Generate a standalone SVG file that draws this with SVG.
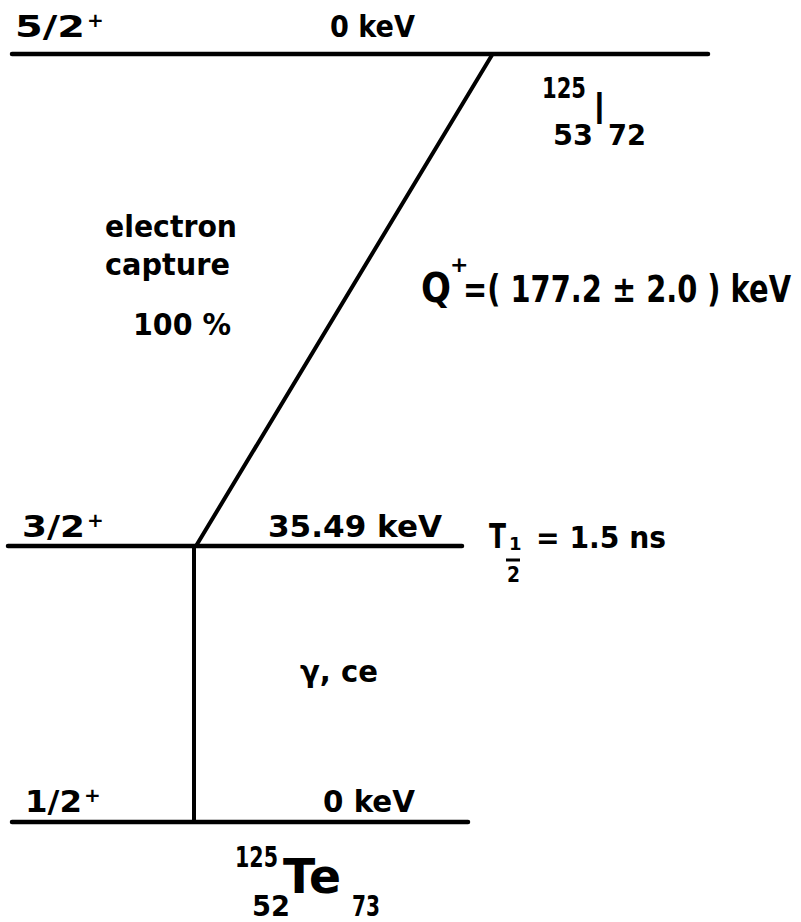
<svg xmlns="http://www.w3.org/2000/svg" width="801" height="922" viewBox="0 0 801 922">
<style>
  text { font-family: "DejaVu Sans", "Liberation Sans", sans-serif; font-weight: bold; fill: #000; }
  .lbl { font-size: 30px; }
  .sup { font-size: 20px; }
  .sub { font-size: 28px; }
  .lvl { stroke: #000; stroke-width: 4.5; stroke-linecap: round; fill: none; }
  .tr { stroke: #000; stroke-width: 4; stroke-linecap: round; fill: none; }
  .thin { font-family: "Liberation Sans", sans-serif; font-weight: normal; }
</style>
<rect width="801" height="922" fill="#fff"/>

<g id="level-I125-ground">
  <line class="lvl" x1="12" y1="54" x2="708" y2="54"/>
  <text class="lbl" x="15" y="37" textLength="70" lengthAdjust="spacingAndGlyphs">5/2</text>
  <text class="sup" x="87" y="27">+</text>
  <text class="lbl" x="330" y="37" textLength="85" lengthAdjust="spacingAndGlyphs">0 keV</text>
</g>

<g id="nuclide-I125">
  <text class="sub" x="542" y="98" textLength="44" lengthAdjust="spacingAndGlyphs">125</text>
  <text class="thin" x="593" y="124" font-size="46">I</text>
  <text class="sub" x="553" y="145" textLength="40" lengthAdjust="spacingAndGlyphs">53</text>
  <text class="sub" x="608" y="145" textLength="38" lengthAdjust="spacingAndGlyphs">72</text>
</g>

<g id="ec-label">
  <text x="105" y="237" font-size="30" textLength="132" lengthAdjust="spacingAndGlyphs">electron</text>
  <text x="105" y="275" font-size="30" textLength="125" lengthAdjust="spacingAndGlyphs">capture</text>
  <text x="133" y="335" font-size="30" textLength="98" lengthAdjust="spacingAndGlyphs">100 %</text>
</g>

<g id="q-value">
  <text x="421" y="302" font-size="40" textLength="30" lengthAdjust="spacingAndGlyphs">Q</text>
  <text x="450" y="272" font-size="22">+</text>
  <text x="463" y="302" font-size="37" textLength="328" lengthAdjust="spacingAndGlyphs">=( 177.2 ± 2.0 ) keV</text>
</g>

<g id="level-Te125-35keV">
  <line class="lvl" x1="8" y1="546" x2="462" y2="546"/>
  <text class="lbl" x="22" y="537" textLength="63" lengthAdjust="spacingAndGlyphs">3/2</text>
  <text class="sup" x="87" y="527">+</text>
  <text class="lbl" x="268" y="537" textLength="174" lengthAdjust="spacingAndGlyphs">35.49 keV</text>
</g>

<g id="half-life">
  <text x="489" y="548" font-size="34" textLength="17" lengthAdjust="spacingAndGlyphs">T</text>
  <text x="509" y="550" font-size="18">1</text>
  <line x1="506" y1="560" x2="520" y2="560" stroke="#000" stroke-width="3"/>
  <text x="507" y="582" font-size="22" textLength="13" lengthAdjust="spacingAndGlyphs">2</text>
  <text x="536" y="548" font-size="30" textLength="130" lengthAdjust="spacingAndGlyphs">= 1.5 ns</text>
</g>

<g id="gamma-label">
  <text class="lbl" x="300" y="682" textLength="78" lengthAdjust="spacingAndGlyphs">γ, ce</text>
</g>

<g id="level-Te125-ground">
  <line class="lvl" x1="12" y1="822" x2="468" y2="822"/>
  <text class="lbl" x="25" y="812" textLength="57" lengthAdjust="spacingAndGlyphs">1/2</text>
  <text class="sup" x="84" y="802">+</text>
  <text class="lbl" x="323" y="812" textLength="92" lengthAdjust="spacingAndGlyphs">0 keV</text>
</g>

<g id="nuclide-Te125">
  <text class="sub" x="235" y="867" textLength="43" lengthAdjust="spacingAndGlyphs">125</text>
  <text x="283" y="893" font-size="48" textLength="58" lengthAdjust="spacingAndGlyphs">Te</text>
  <text class="sub" x="252" y="916" textLength="38" lengthAdjust="spacingAndGlyphs">52</text>
  <text class="sub" x="352" y="916" textLength="28" lengthAdjust="spacingAndGlyphs">73</text>
</g>

<g id="connectors">
  <line class="tr" x1="492" y1="55" x2="196" y2="546"/>
  <line class="tr" x1="194" y1="546" x2="194" y2="822"/>
</g>
</svg>
